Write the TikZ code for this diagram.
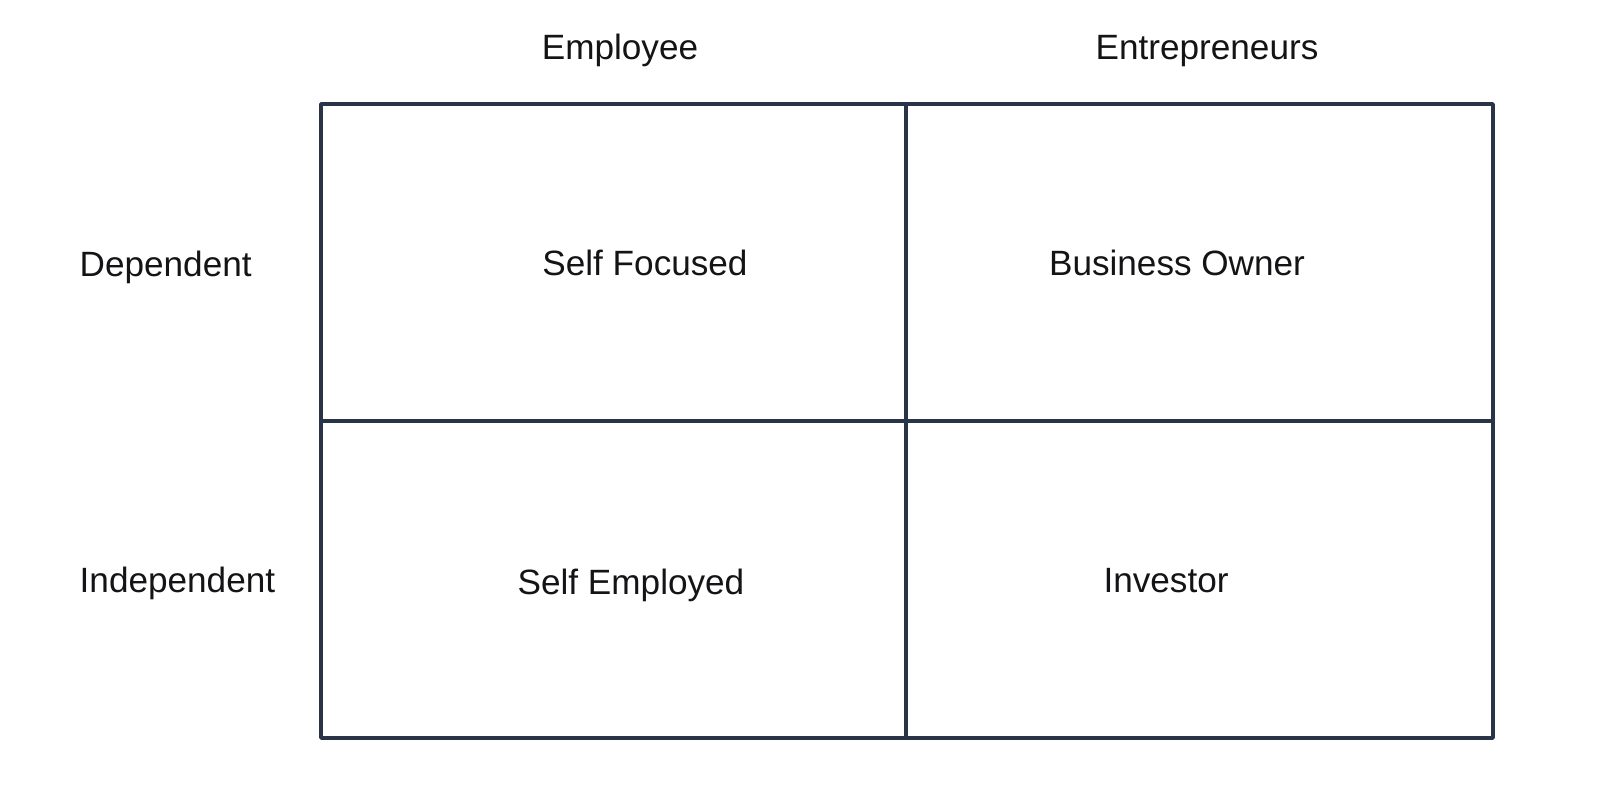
\documentclass[tikz,border=0pt]{standalone}
\usepackage{fontspec}
\setmainfont{Liberation Sans}
\definecolor{G4}{RGB}{42,52,72}
\definecolor{T4}{RGB}{20,20,22}

\begin{document}
\begin{tikzpicture}[lbl/.style={text=T4, font=\fontsize{10}{12}\selectfont, inner sep=0pt}]
      \useasboundingbox (0,0) rectangle (16,7.87);
      % grid
      \draw[G4, line width=1pt, line join=round] (3.21,0.49) rectangle (14.93,6.83);
      \draw[G4, line width=1pt] (9.06,0.49)--(9.06,6.83);
      \draw[G4, line width=1pt] (3.21,3.66)--(14.93,3.66);
      % headings
      \node[lbl] (emp) at (6.20,7.37) {Employee};
      \node[lbl] (ent) at (12.07,7.36) {Entrepreneurs};
      \node[lbl, anchor=west] (dep) at (0.79,5.20) {Dependent};
      \node[lbl, anchor=west] (ind) at (0.79,2.04) {Independent};
      % cells
      \node[lbl] (sf) at (6.45,5.24) {Self Focused};
      \node[lbl] (bo) at (11.77,5.24) {Business Owner};
      \node[lbl] (se) at (6.31,2.02) {Self Employed};
      \node[lbl] (inv) at (11.66,2.06) {Investor};
    \end{tikzpicture}
\end{document}
